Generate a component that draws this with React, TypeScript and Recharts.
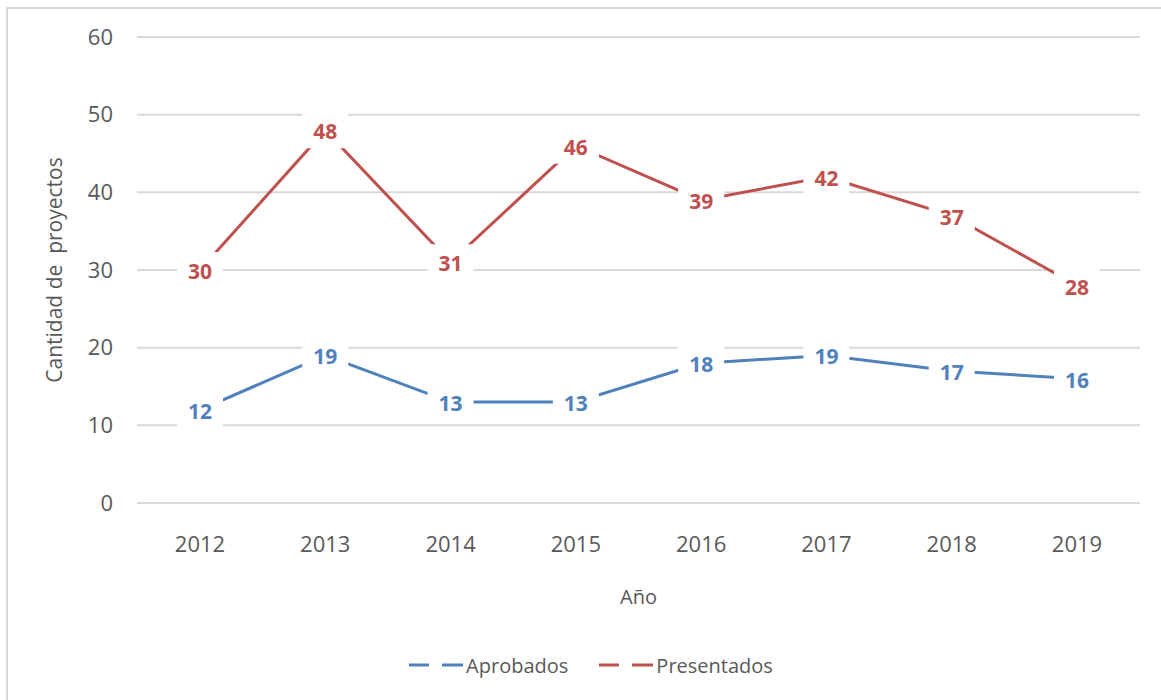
import React from "react";
import { LineChart, Line, XAxis, YAxis, CartesianGrid, Legend, LabelList, Label } from "recharts";

const YEARS = ["2012", "2013", "2014", "2015", "2016", "2017", "2018", "2019"];
const APROBADOS = [12, 19, 13, 13, 18, 19, 17, 16];
const PRESENTADOS = [30, 48, 31, 46, 39, 42, 37, 28];
const Y_TICKS = [0, 10, 20, 30, 40, 50, 60];

const BLUE = "#4F81BD";
const RED = "#C0504D";
const TEXT = "#595959";
const GRID = "#d9d9d9";
const FONT = "'Open Sans', 'Noto Sans', sans-serif";

const data = YEARS.map((year, i) => ({
  year,
  aprobados: APROBADOS[i],
  presentados: PRESENTADOS[i],
}));

function makeLabel(color: string) {
  return (props: any) => {
    const { x, y, value } = props;
    if (x == null || y == null) return null;
    return (
      <g>
        <rect x={x - 23} y={y - 18} width={46} height={36} fill="#ffffff" />
        <text
          x={x}
          y={y + 9}
          textAnchor="middle"
          fill={color}
          fontSize={21}
          fontWeight={700}
          fontFamily={FONT}
        >
          {value}
        </text>
      </g>
    );
  };
}

function LegendContent(props: any) {
  const items = props.payload || [];
  return (
    <div
      style={{
        height: 70,
        display: "flex",
        justifyContent: "center",
        alignItems: "center",
        paddingLeft: 42,
        fontFamily: FONT,
        fontSize: 20,
        color: TEXT,
      }}
    >
      {items.map((item: any, i: number) => (
        <div key={item.value} style={{ display: "flex", alignItems: "center", marginLeft: i === 0 ? 0 : 31 }}>
          <svg width={54} height={6}>
            <line x1={0} y1={3} x2={20} y2={3} stroke={item.color} strokeWidth={3} />
            <line x1={33} y1={3} x2={54} y2={3} stroke={item.color} strokeWidth={3} />
          </svg>
          <span style={{ marginLeft: 3 }}>{item.value}</span>
        </div>
      ))}
    </div>
  );
}

export default function App() {
  return (
    <div style={{ position: "absolute", left: 0, top: 0, width: 1161, height: 700, overflow: "hidden", background: "#fff" }}>
      <div
        style={{
          position: "absolute",
          left: 6,
          top: 7,
          width: 1180,
          height: 720,
          border: `2px solid ${GRID}`,
        }}
      />
      <div style={{ position: "absolute", left: 0, top: 0 }}>
        <LineChart width={1161} height={700} data={data} margin={{ top: 37, right: 21, bottom: 0, left: 0 }}>
          <CartesianGrid vertical={false} stroke={GRID} strokeWidth={2} />
          <XAxis
            dataKey="year"
            axisLine={false}
            tickLine={false}
            tickSize={0}
            tickMargin={33}
            height={127}
            padding={{ left: 63, right: 63 }}
            tick={{ fill: TEXT, fontSize: 22, fontFamily: FONT }}
          >
            <Label value="Año" position="insideTop" offset={87} fill={TEXT} fontSize={20} fontFamily={FONT} />
          </XAxis>
          <YAxis
            domain={[0, 60]}
            ticks={Y_TICKS}
            axisLine={false}
            tickLine={false}
            tickSize={0}
            tickMargin={24}
            width={137}
            tick={{ fill: TEXT, fontSize: 22, fontFamily: FONT }}
          >
            <Label
              value={"Cantidad de\u00a0 proyectos"}
              angle={-90}
              position="center"
              dx={-14}
              fill={TEXT}
              fontSize={21}
              fontFamily={FONT}
            />
          </YAxis>
          <Legend verticalAlign="bottom" content={<LegendContent />} />
          <Line
            type="linear"
            dataKey="aprobados"
            name="Aprobados"
            stroke={BLUE}
            strokeWidth={3}
            dot={false}
            activeDot={false}
            isAnimationActive={false}
          >
            <LabelList dataKey="aprobados" content={makeLabel(BLUE)} />
          </Line>
          <Line
            type="linear"
            dataKey="presentados"
            name="Presentados"
            stroke={RED}
            strokeWidth={3}
            dot={false}
            activeDot={false}
            isAnimationActive={false}
          >
            <LabelList dataKey="presentados" content={makeLabel(RED)} />
          </Line>
        </LineChart>
      </div>
    </div>
  );
}
